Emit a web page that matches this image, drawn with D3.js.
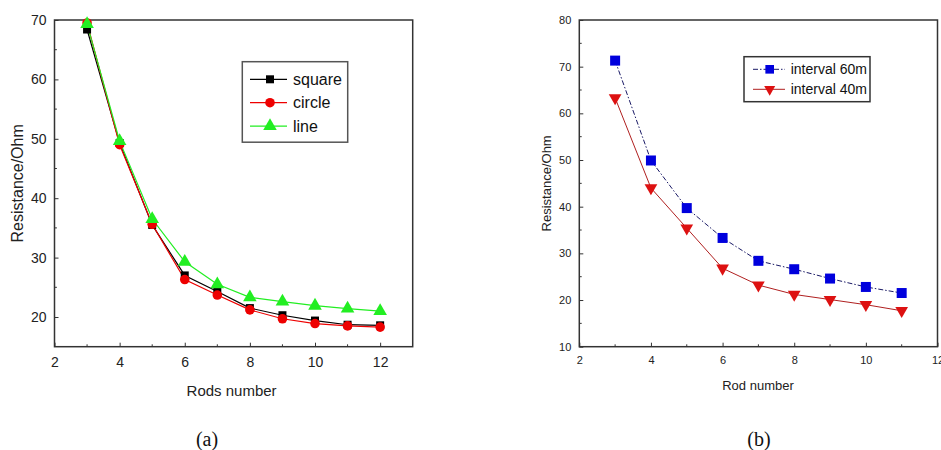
<!DOCTYPE html>
<html><head><meta charset="utf-8">
<script src="https://cdn.jsdelivr.net/npm/d3@7"></script>
<style>body{margin:0;background:#fff}svg{display:block;font-family:"Liberation Sans",Arial,sans-serif}</style>
</head><body>
<svg id="c" width="941" height="450"></svg>
<script>
// Chart (a)
const rodsA = [3,4,5,6,7,8,9,10,11,12];
const squareVals = [68.4,49.3,35.5,27.0,24.3,21.5,20.3,19.4,18.7,18.6];
const circleVals = [69.5,49.0,35.6,26.3,23.7,21.2,19.7,18.9,18.5,18.3];
const lineVals   = [69.3,49.6,36.5,29.3,25.5,23.3,22.6,21.9,21.4,21.0];
const xTicksA = [2,4,6,8,10,12];
const yTicksA = [20,30,40,50,60,70];
const seriesNamesA = ["square","circle","line"];
// Chart (b)
const rodsB = [3,4,5,6,7,8,9,10,11];
const int60Vals = [71.3,49.9,39.7,33.3,28.4,26.6,24.6,22.8,21.5];
const int40Vals = [63.3,44.0,35.4,26.8,23.2,21.2,20.1,19.0,17.7];
const xTicksB = [2,4,6,8,10,12];
const yTicksB = [10,20,30,40,50,60,70,80];
const seriesNamesB = ["interval 60m","interval 40m"];
const captions = ["(a)","(b)"];

const svg = d3.select("#c");

function frame(g, x, y, xt, yt, xminor, yminor, fs, tickLen){
  const [x0,x1] = x.range(), [y0,y1] = y.range();
  g.append("rect").attr("x",x0).attr("y",y1).attr("width",x1-x0).attr("height",y0-y1)
    .attr("fill","none").attr("stroke","#333").attr("stroke-width",1.5);
  const xa = g.append("g").attr("transform",`translate(0,${y0})`)
    .call(d3.axisBottom(x).tickValues(xt).tickSizeInner(-tickLen).tickSizeOuter(0).tickPadding(tickLen+6).tickFormat(d3.format("d")));
  const ya = g.append("g").attr("transform",`translate(${x0},0)`)
    .call(d3.axisLeft(y).tickValues(yt).tickSizeInner(-tickLen).tickSizeOuter(0).tickPadding(tickLen+4).tickFormat(d3.format("d")));
  [xa,ya].forEach(a=>{a.attr("font-family",null).attr("font-size",null);a.select(".domain").remove();a.selectAll("text").style("font-size",fs+"px").attr("fill","#222");a.selectAll("line").attr("stroke","#333");});
  g.selectAll(".xm").data(xminor).enter().append("line").attr("x1",d=>x(d)).attr("x2",d=>x(d)).attr("y1",y0).attr("y2",y0-tickLen*0.6).attr("stroke","#333");
  g.selectAll(".ym").data(yminor).enter().append("line").attr("y1",d=>y(d)).attr("y2",d=>y(d)).attr("x1",x0).attr("x2",x0+tickLen*0.6).attr("stroke","#333");
}

// ---- Chart A
const gA = svg.append("g");
const xA = d3.scaleLinear().domain([2,13]).range([54.5,412.7]);
const yA = d3.scaleLinear().domain([15,70]).range([346.7,20]);
frame(gA,xA,yA,xTicksA,yTicksA,[3,5,7,9,11],[25,35,45,55,65],14,4);
gA.append("text").attr("x",(xA(2)+xA(13))/2 - 2).attr("y",396).attr("text-anchor","middle").style("font-size","15px").attr("fill","#222").text("Rods number");
gA.append("text").attr("transform",`translate(23,${(yA(15)+yA(70))/2}) rotate(-90)`).attr("text-anchor","middle").style("font-size","16px").attr("fill","#222").text("Resistance/Ohm");

const colsA = ["#000","#ee0000","#22ee22"];
const dataA = [squareVals,circleVals,lineVals];
const symA = [d3.symbolSquare,d3.symbolCircle,d3.symbolTriangle];
const sizeA = [64,72,80];
const lineGen = (x,y,xs)=>d3.line().x((d,i)=>x(xs[i])).y(d=>y(d));
dataA.forEach((vals,k)=>{
  gA.append("path").attr("d",lineGen(xA,yA,rodsA)(vals)).attr("fill","none").attr("stroke",colsA[k]).attr("stroke-width",1.2);
});
dataA.forEach((vals,k)=>{
  gA.selectAll(".m"+k).data(vals).enter().append("path")
    .attr("transform",(d,i)=>`translate(${xA(rodsA[i])},${yA(d)})`)
    .attr("d",d3.symbol().type(symA[k]).size(sizeA[k])).attr("fill",colsA[k]);
});
// legend A
gA.append("rect").attr("x",242.3).attr("y",61.7).attr("width",105.4).attr("height",80.5).attr("fill","#fff").attr("stroke","#555").attr("stroke-width",1.5);
seriesNamesA.forEach((n,k)=>{
  const yy = 79.3 + k*23.4;
  gA.append("line").attr("x1",250).attr("x2",287).attr("y1",yy).attr("y2",yy).attr("stroke",colsA[k]).attr("stroke-width",1.2);
  gA.append("path").attr("transform",`translate(270,${yy})`).attr("d",d3.symbol().type(symA[k]).size(sizeA[k])).attr("fill",colsA[k]);
  gA.append("text").attr("x",293).attr("y",yy+5.5).style("font-size","16px").attr("fill","#111").text(n);
});

// ---- Chart B
const gB = svg.append("g");
const xB = d3.scaleLinear().domain([2,12]).range([579.3,937.5]);
const yB = d3.scaleLinear().domain([10,80]).range([346.7,20]);
frame(gB,xB,yB,xTicksB,yTicksB,[3,5,7,9,11],[15,25,35,45,55,65,75],11,4);
gB.append("text").attr("x",758).attr("y",390).attr("text-anchor","middle").style("font-size","13px").attr("fill","#222").text("Rod number");
gB.append("text").attr("transform",`translate(551,${(yB(10)+yB(80))/2}) rotate(-90)`).attr("text-anchor","middle").style("font-size","13px").attr("fill","#222").text("Resistance/Ohm");

const lineColsB = ["#1a1a66","#b02020"];
const markColsB = ["#0000dd","#dd1111"];
const dashB = ["5,2,1.5,2","none"];
const dataB = [int60Vals,int40Vals];
const symTriDown = {draw(ctx,size){const s=Math.sqrt(size*4/Math.sqrt(3)); const h=s*Math.sqrt(3)/2; ctx.moveTo(-s/2,-h/3);ctx.lineTo(s/2,-h/3);ctx.lineTo(0,2*h/3);ctx.closePath();}};
const symB = [d3.symbolSquare,symTriDown];
const sizeB = [100,70];
dataB.forEach((vals,k)=>{
  gB.append("path").attr("d",lineGen(xB,yB,rodsB)(vals)).attr("fill","none").attr("stroke",lineColsB[k]).attr("stroke-width",1).attr("stroke-dasharray",dashB[k]);
});
dataB.forEach((vals,k)=>{
  gB.selectAll(".m"+k).data(vals).enter().append("path")
    .attr("transform",(d,i)=>`translate(${xB(rodsB[i])},${yB(d)})`)
    .attr("d",d3.symbol().type(symB[k]).size(sizeB[k])).attr("fill",markColsB[k]);
});
gB.append("rect").attr("x",744).attr("y",56.7).attr("width",126).attr("height",45).attr("fill","#fff").attr("stroke","#333").attr("stroke-width",1.5);
seriesNamesB.forEach((n,k)=>{
  const yy = 69.3 + k*20;
  gB.append("line").attr("x1",753).attr("x2",785).attr("y1",yy).attr("y2",yy).attr("stroke",lineColsB[k]).attr("stroke-width",1).attr("stroke-dasharray",dashB[k]);
  gB.append("path").attr("transform",`translate(769.7,${yy})`).attr("d",d3.symbol().type(symB[k]).size(sizeB[k]*0.75)).attr("fill",markColsB[k]);
  gB.append("text").attr("x",790.7).attr("y",yy+5).style("font-size","14px").attr("fill","#111").text(n);
});

// captions
[207,759].forEach((cx,i)=>{
  svg.append("text").attr("x",cx).attr("y",446).attr("text-anchor","middle")
    .style("font-size","20px").style("font-family","'Liberation Serif','Times New Roman',serif").attr("fill","#111").text(captions[i]);
});
</script>
</body></html>
